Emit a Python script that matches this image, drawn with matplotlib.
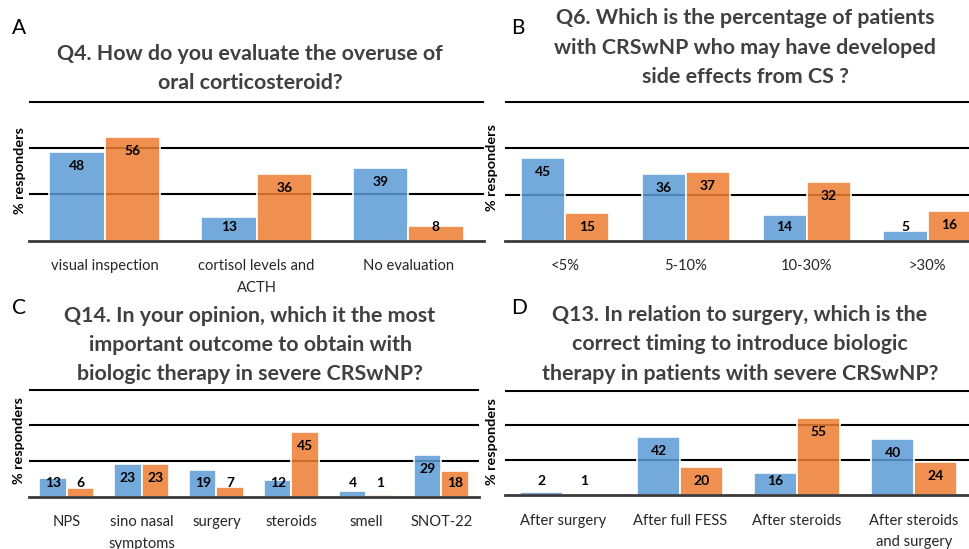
import matplotlib
matplotlib.use("Agg")
import matplotlib.pyplot as plt
import numpy as np

plt.rcParams['font.family'] = ['Lato', 'DejaVu Sans']

# ---------------- data ----------------
a_title = "Q4. How do you evaluate the overuse of\noral corticosteroid?"
a_cats = ["visual inspection", "cortisol levels and\nACTH", "No evaluation"]
a_blue = [48, 13, 39]
a_orange = [56, 36, 8]

b_title = "Q6. Which is the percentage of patients\nwith CRSwNP who may have developed\nside effects from CS ?"
b_cats = ["<5%", "5-10%", "10-30%", ">30%"]
b_blue = [45, 36, 14, 5]
b_orange = [15, 37, 32, 16]

c_title = "Q14. In your opinion, which it the most\nimportant outcome to obtain with\nbiologic therapy in severe CRSwNP?"
c_cats = ["NPS", "sino nasal\nsymptoms", "surgery", "steroids", "smell", "SNOT-22"]
c_blue = [13, 23, 19, 12, 4, 29]
c_orange = [6, 23, 7, 45, 1, 18]

d_title = "Q13. In relation to surgery, which is the\ncorrect timing to introduce biologic\ntherapy in patients with severe CRSwNP?"
d_cats = ["After surgery", "After full FESS", "After steroids", "After steroids\nand surgery"]
d_blue = [2, 42, 16, 40]
d_orange = [1, 20, 55, 24]

grid_vals = [25, 50, 75]
ylab = "% responders"
letters = ["A", "B", "C", "D"]

# ---------------- style ----------------
W, H = 969, 549
DPI = 100
BLUE = (0x5B / 255, 0x9B / 255, 0xD5 / 255, 0.85)
ORANGE = (0xED / 255, 0x7D / 255, 0x31 / 255, 0.85)
TITLE_C = "#404040"

fig = plt.figure(figsize=(W / DPI, H / DPI), dpi=DPI)


def px_rect(left, right, top, bottom):
    return [left / W, 1 - bottom / H, (right - left) / W, (bottom - top) / H]


def panel(rect_px, cats, blue, orange, title, title_xy, letter, letter_xy, ylab_xy):
    ax = fig.add_axes(px_rect(*rect_px))
    ymax = 75.4
    ax.set_ylim(0, ymax)
    n = len(cats)
    ax.set_xlim(-0.5, n - 0.5)
    x = np.arange(n)
    w = 0.365
    for yv in grid_vals:
        ax.axhline(yv, color="black", lw=1.5, zorder=1)
    ax.bar(x - w / 2, blue, width=w, facecolor=BLUE, edgecolor="white", lw=1.2, zorder=3)
    ax.bar(x + w / 2, orange, width=w, facecolor=ORANGE, edgecolor="white", lw=1.2, zorder=3)
    for s in ["top", "left", "right"]:
        ax.spines[s].set_visible(False)
    ax.spines["bottom"].set_color("#3a3a3a")
    ax.spines["bottom"].set_linewidth(2.0)
    ax.spines["bottom"].set_zorder(4)
    ax.set_yticks([])
    ax.set_xticks(x)
    ax.set_xticklabels(cats, fontsize=10.6, color="#262626", linespacing=1.7)
    ax.tick_params(axis="x", length=0, pad=13.5)
    # value labels
    hpx = rect_px[3] - rect_px[2]
    upp = ymax / hpx
    off = 14 * upp
    for xs, vals in ((x - w / 2, blue), (x + w / 2, orange)):
        for xi, v in zip(xs, vals):
            yl = max(v - off, off)
            ax.text(xi, yl, str(v), ha="center", va="center", fontsize=10,
                    fontweight="bold", color="black", zorder=5)
    fig.text(title_xy[0] / W, 1 - title_xy[1] / H, title, ha="center", va="center",
             fontsize=15.4, fontweight="bold", color=TITLE_C, linespacing=1.58)
    fig.text(letter_xy[0] / W, 1 - letter_xy[1] / H, letter, ha="center", va="center",
             fontsize=15, color="black")
    fig.text(ylab_xy[0] / W, 1 - ylab_xy[1] / H, ylab, ha="center", va="center",
             rotation=90, fontsize=10.4, fontweight="bold", color="black")
    return ax


panel((29, 484, 101, 240.7), a_cats, a_blue, a_orange, a_title, (250, 68.5),
      letters[0], (19, 28), (20, 171))
panel((504.5, 988, 101.5, 240.7), b_cats, b_blue, b_orange, b_title, (745, 47.5),
      letters[1], (518, 28), (492, 168))
panel((29, 479, 389, 496.7), c_cats, c_blue, c_orange, c_title, (250, 345),
      letters[2], (19, 308), (19, 441))
panel((504.5, 972.5, 390, 495), d_cats, d_blue, d_orange, d_title, (740, 344.5),
      letters[3], (519, 308), (492, 442))

fig.savefig("out.png", dpi=DPI)
